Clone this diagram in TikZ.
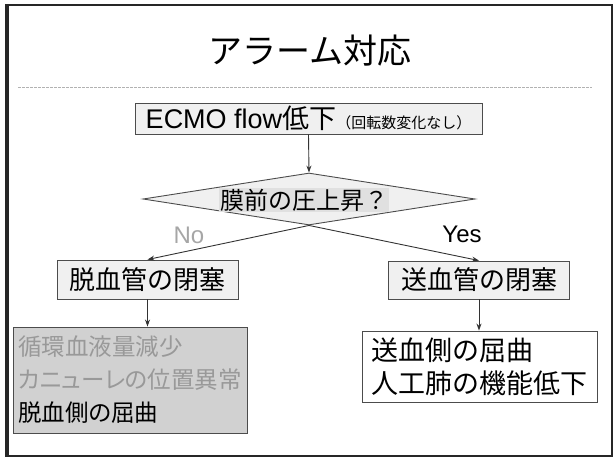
\documentclass[tikz,border=0pt]{standalone}
\usepackage{fontspec}
\setmainfont{Noto Sans CJK JP}
\newfontfamily\latf{Liberation Sans}
\newfontfamily\jpp[RawFeature=+palt]{Noto Sans CJK JP}
\usetikzlibrary{shapes.geometric,arrows.meta}
\begin{document}
\begin{tikzpicture}[x=1pt,y=-1pt,
  box/.style={draw=black!70, line width=0.9pt, fill=black!6, inner sep=0pt},
  arr/.style={-{Stealth[length=7pt,width=5pt]}, line width=0.9pt, draw=black!80},
  bigtxt/.style={font=\fontsize{26}{33}\selectfont}
]
\useasboundingbox (0,0) rectangle (614,458);
% frame
\draw[line width=1.5pt, black!85] (6,5) rectangle (612,456);
\draw[line width=4pt, black!85] (7,4) -- (7,457);
% title
\node[font=\fontsize{34}{40}\selectfont] (title) at (310,51) {アラーム対応};
\coordinate (rl) at (18,87);
\coordinate (rr) at (592,87);
\draw[black!30, line width=1pt, dash pattern=on 3pt off 1pt] (rl) -- (rr);
% top box
\node[box, minimum width=347, minimum height=31] (ecmo) at (308.5,118.5)
  {\fontsize{27}{30}\selectfont{\latf ECMO flow}低下\fontsize{15}{16}\selectfont （回転数変化なし）};
% decision
\node[diamond, draw=black!70, fill=black!6, line width=0.9pt, minimum width=332,
  minimum height=52, inner sep=0pt, shape aspect=6] (dec) at (309,199) {};
\node[font=\fontsize{24}{28}\selectfont, fill=black!12, inner sep=1pt] (dectext) at (304,200) {膜前の圧上昇？};
% labels
\node[font=\latf\fontsize{24}{28}\selectfont, text=black!35] (no) at (189,235) {No};
\node[font=\latf\fontsize{24}{28}\selectfont] (yes) at (462,234) {Yes};
% second level
\node[box, bigtxt, minimum width=181, minimum height=39] (nobox) at (147.5,279.5) {脱血管の閉塞};
\node[box, bigtxt, minimum width=181, minimum height=38] (yesbox) at (479,280) {送血管の閉塞};
% bottom
\node[box, font=\jpp\fontsize{23.5}{33}\selectfont, fill=black!18, minimum width=234, minimum height=106, align=left] (lbot) at (130,380)
  {\textcolor{black!40}{循環血液量減少}\\\textcolor{black!40}{カニューレの位置異常}\\脱血側の屈曲};
\node[box, font=\fontsize{27}{33}\selectfont, fill=white, minimum width=235, minimum height=71, align=left] (rbot) at (479.5,366.5)
  {送血側の屈曲\\人工肺の機能低下};
% connectors
\draw[arr] (ecmo.south) -- (dec.north);
\draw[arr] (dec.south) -- (nobox.north);
\draw[arr] (dec.south) -- (yesbox.north);
\draw[arr] (nobox.south) -- (nobox.south |- lbot.north);
\draw[arr] (yesbox.south) -- (yesbox.south |- rbot.north);
\end{tikzpicture}
\end{document}
